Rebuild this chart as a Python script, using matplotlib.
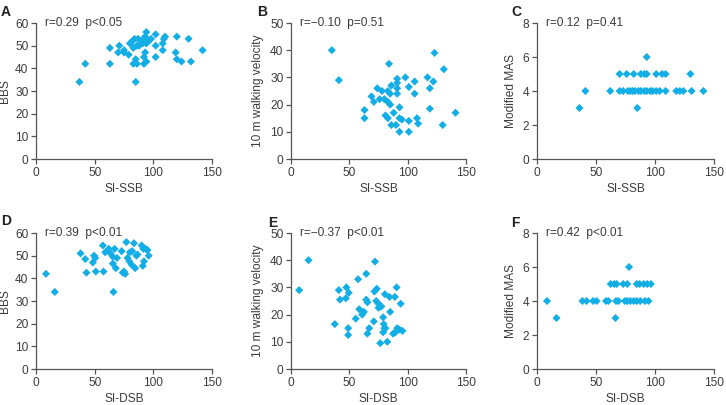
import matplotlib
matplotlib.use("Agg")
import matplotlib.pyplot as plt

plt.rcParams['font.family'] = ['Liberation Sans', 'DejaVu Sans']

# ---------------- data ----------------
a_x = [37, 42, 63, 63, 71, 70, 75, 75, 79, 80, 82, 84, 83, 86, 85, 83, 86, 85, 87, 90, 92, 94, 93, 94, 96,
       93, 92, 92, 94, 98, 102, 102, 102, 108, 109, 110, 108, 120, 119, 120, 124, 130, 132, 142, 88, 91]
a_y = [34, 42, 49, 42, 50, 47, 48, 47, 46, 51, 52, 53, 49, 50, 44, 42, 42, 34, 53, 52, 53, 56, 54, 51, 52,
       47, 45, 42, 43, 53, 55, 50, 45, 51, 53, 54, 48, 54, 47, 44, 43, 53, 43, 48, 50, 51]

b_x = [35, 41, 63, 63, 69, 71, 74, 76, 78, 80, 81, 83, 83, 83, 84, 85, 85, 86, 86, 88, 90, 91, 91, 91, 91,
       93, 93, 93, 95, 98, 101, 101, 101, 106, 106, 108, 109, 117, 119, 119, 122, 123, 130, 131, 141]
b_y = [40, 29, 18, 15, 23, 21, 26, 22, 25, 22, 16, 15, 21, 25, 35, 24, 20, 27, 12.5, 17, 12.5, 24, 26, 28, 29.5,
       19, 10, 15, 14.5, 30, 26.5, 14, 10, 28.5, 24, 15, 13, 30, 26, 18.5, 28.5, 39, 12.5, 33, 17]

c_x = [41, 62, 70, 73, 77, 79, 81, 83, 86, 88, 91, 93, 96, 98, 101, 104, 109, 118, 121, 124, 131, 141,
       70, 76, 82, 88, 91, 93, 101, 106, 109, 130,
       93, 36, 85]
c_y = [4, 4, 4, 4, 4, 4, 4, 4, 4, 4, 4, 4, 4, 4, 4, 4, 4, 4, 4, 4, 4, 4,
       5, 5, 5, 5, 5, 5, 5, 5, 5, 5,
       6, 3, 3]

d_x = [8.5, 16, 38, 42, 43, 48.5, 49.5, 50.5, 51, 57.5, 57, 59, 62, 63.5, 65.5, 67, 65.5, 68, 66, 69, 73, 74,
       75, 76, 77, 78, 79.5, 80, 81.5, 83.5, 82, 84.5, 85.5, 86.5, 90, 91, 92, 93.5, 95, 96, 91.5]
d_y = [42, 34, 51, 48.5, 42.5, 47, 50, 49, 43, 43, 54.5, 51.5, 53, 51, 49.5, 53, 46.5, 44.5, 34, 49, 52, 42.5,
       43, 42, 56, 49, 47.5, 51.5, 46, 55.5, 52, 44.5, 50, 50.5, 54.5, 45.5, 47.5, 53, 52.5, 50, 53]

e_x = [7, 15, 37.5, 41, 42, 47, 47.5, 49.5, 49, 49, 55.5, 57.5, 58.5, 61, 62.5, 64.5, 64.5, 65.5, 65.5, 67,
       71, 72, 71.5, 73.5, 73, 75, 75, 76.5, 77.5, 79, 79.5, 80, 79, 81, 80.5, 82.5, 84.5, 85, 87.5, 89,
       90.5, 91, 93, 94, 95.5, 89.5]
e_y = [29, 40, 16.5, 29, 25.5, 26, 30, 28, 15, 12.5, 18.5, 33, 22, 20, 21, 35, 25.5, 24.5, 13, 15,
       17.5, 39.5, 28.5, 29.5, 25, 24, 22.5, 9.5, 23, 19, 16.5, 15, 13.5, 15, 27.5, 10, 26.5, 21, 13, 26.5,
       30, 15, 14.5, 24, 14, 13.5]

f_x = [8.5, 38.5, 42, 47.5, 50.5, 58.5, 60.5, 67, 69, 74.5, 76.5, 79, 82, 84.5, 87.5, 91.5, 94.5,
       62.5, 65.5, 67.5, 73, 76.5, 84.5, 87, 90.5, 93.5, 96.5,
       78, 16.5, 66.5]
f_y = [4, 4, 4, 4, 4, 4, 4, 4, 4, 4, 4, 4, 4, 4, 4, 4, 4,
       5, 5, 5, 5, 5, 5, 5, 5, 5, 5,
       6, 3, 3]

panels = [
    # letter, x, y, xlabel, ylabel, ylim, yticks, stat text
    ('A', a_x, a_y, 'SI-SSB', 'BBS', 60, [0, 10, 20, 30, 40, 50, 60], 'r=0.29  p<0.05'),
    ('B', b_x, b_y, 'SI-SSB', '10 m walking velocity', 50, [0, 10, 20, 30, 40, 50], 'r=\u22120.10  p=0.51'),
    ('C', c_x, c_y, 'SI-SSB', 'Modified MAS', 8, [0, 2, 4, 6, 8], 'r=0.12  p=0.41'),
    ('D', d_x, d_y, 'SI-DSB', 'BBS', 60, [0, 10, 20, 30, 40, 50, 60], 'r=0.39  p<0.01'),
    ('E', e_x, e_y, 'SI-DSB', '10 m walking velocity', 50, [0, 10, 20, 30, 40, 50], 'r=\u22120.37  p<0.01'),
    ('F', f_x, f_y, 'SI-DSB', 'Modified MAS', 8, [0, 2, 4, 6, 8], 'r=0.42  p<0.01'),
]

W, H = 726, 405
fig = plt.figure(figsize=(W / 100, H / 100), dpi=100)

# axes pixel boxes: (left, right, top, bottom)
col_lr = [(36, 212), (291, 466), (537, 714)]
row_tb = [(23, 159), (233, 369)]
ylab_right = [11, 264, 517]
letter_pos = [(1, 12), (257, 12), (511, 12), (1, 221), (268, 223), (511, 223)]

marker_color = '#14aee6'
text_color = '#3c3c3c'
spine_color = '#555555'
fs = 8.6

for i, (letter, xs, ys, xl, yl, ymax, yt, stat) in enumerate(panels):
    r, c = divmod(i, 3)
    L, R = col_lr[c]
    T, B = row_tb[r]
    ax = fig.add_axes([L / W, 1 - B / H, (R - L) / W, (B - T) / H])
    ax.scatter(xs, ys, marker='D', s=17, color=marker_color, edgecolors='none', zorder=3, clip_on=False)
    ax.set_xlim(0, 150)
    ax.set_ylim(0, ymax)
    ax.set_xticks([0, 50, 100, 150])
    ax.set_yticks(yt)
    for s in ['top', 'right']:
        ax.spines[s].set_visible(False)
    for s in ['left', 'bottom']:
        ax.spines[s].set_color(spine_color)
        ax.spines[s].set_linewidth(0.9)
    ax.tick_params(direction='out', length=3.5, width=0.9, color=spine_color,
                   labelsize=fs, labelcolor=text_color, pad=2)
    ax.set_xlabel(xl, fontsize=fs, color=text_color)
    ax.set_ylabel(yl, fontsize=fs, color=text_color)
    ax.xaxis.set_label_coords(0.5, -0.18)
    ax.yaxis.set_label_coords((ylab_right[c] - L) / (R - L), 0.5)
    ax.text(0.05, 1.0, stat, transform=ax.transAxes, fontsize=fs, color=text_color,
            ha='left', va='center')
    lx, ly = letter_pos[i]
    fig.text(lx / W, 1 - ly / H, letter, fontsize=10, fontweight='bold', color='#222222',
             ha='left', va='center')

fig.savefig('out.png', dpi=100)
